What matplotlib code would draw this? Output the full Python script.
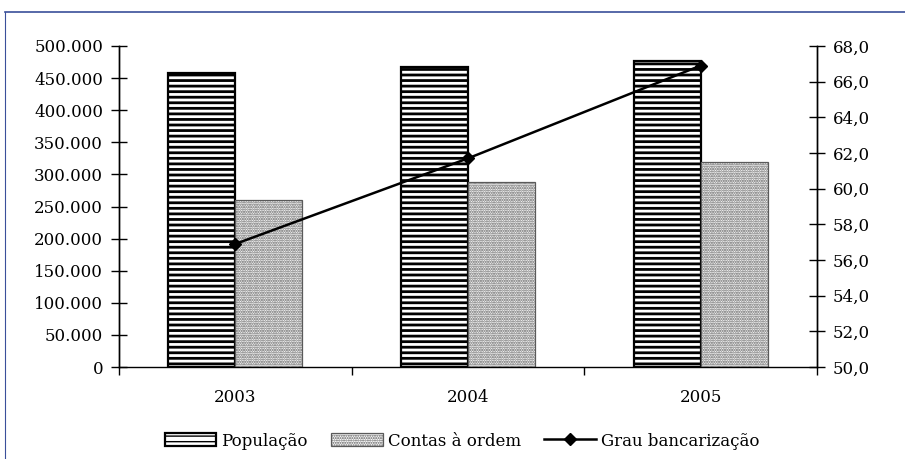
import matplotlib.pyplot as plt
import numpy as np
from matplotlib.lines import Line2D

plt.rcParams['font.family'] = ['DejaVu Serif']

anos = ['2003', '2004', '2005']
populacao = [458000, 467500, 476500]
contas_ordem = [260000, 288500, 319000]
grau_bancarizacao = [56.9, 61.7, 66.9]

fig = plt.figure(figsize=(9.05, 4.59), dpi=100)
ax = fig.add_axes([119 / 905, 1 - 367 / 459, 698 / 905, 321 / 459])
ax2 = ax.twinx()

x = np.arange(len(anos))
w = 0.288
with plt.rc_context({'hatch.linewidth': 2.0}):
    ax.bar(x - w / 2, populacao, w, color='white', edgecolor='black', hatch='---',
           linewidth=1.6, label='População', zorder=2)
with plt.rc_context({'hatch.linewidth': 1.1}):
    ax.bar(x + w / 2, contas_ordem, w, color='white', edgecolor='#5a5a5a', hatch='.......',
           linewidth=0.9, label='Contas à ordem', zorder=2)
ax2.plot(x, grau_bancarizacao, color='black', lw=1.8, marker='D', ms=6.5,
         label='Grau bancarização')

ax.set_xlim(-0.5, 2.5)
ax.set_ylim(0, 500000)
ax2.set_ylim(50, 68)
ax.set_yticks(np.arange(0, 500001, 50000))
ax.set_yticklabels([f'{int(v):,}'.replace(',', '.') for v in np.arange(0, 500001, 50000)])
ax2.set_yticks(np.arange(50, 68.1, 2))
ax2.set_yticklabels([f'{v:.1f}'.replace('.', ',') for v in np.arange(50, 68.1, 2)])

ax.set_xticks(x)
ax.set_xticklabels(anos)
ax.set_xticks([-0.5, 0.5, 1.5, 2.5], minor=True)
ax.tick_params(axis='x', which='major', length=0, pad=16, labelsize=12)
ax.tick_params(axis='x', which='minor', length=6, direction='out', width=1)
ax.tick_params(axis='y', direction='inout', length=11, width=1, labelsize=12, pad=6)
ax2.tick_params(axis='y', direction='inout', length=11, width=1, labelsize=12, pad=6)

for a in (ax, ax2):
    a.spines['top'].set_visible(False)
    for s in ('left', 'right', 'bottom'):
        a.spines[s].set_linewidth(1)
ax2.spines['bottom'].set_visible(False)

h1, l1 = ax.get_legend_handles_labels()
h2, l2 = ax2.get_legend_handles_labels()
fig.legend(h1 + h2, l1 + l2, loc='center', bbox_to_anchor=(462 / 905, 1 - 441 / 459), ncol=3,
           frameon=False, fontsize=12, handlelength=3.1, handleheight=0.8,
           columnspacing=1.4, handletextpad=0.3)

# frame lines along top and left
fig.add_artist(Line2D([5 / 905, 1], [1 - 12 / 459, 1 - 12 / 459], color='#3a4f9a', lw=1.2))
fig.add_artist(Line2D([5 / 905, 5 / 905], [0, 1 - 12 / 459], color='#3a4f9a', lw=0.8))

fig.savefig('out.png', dpi=100)
